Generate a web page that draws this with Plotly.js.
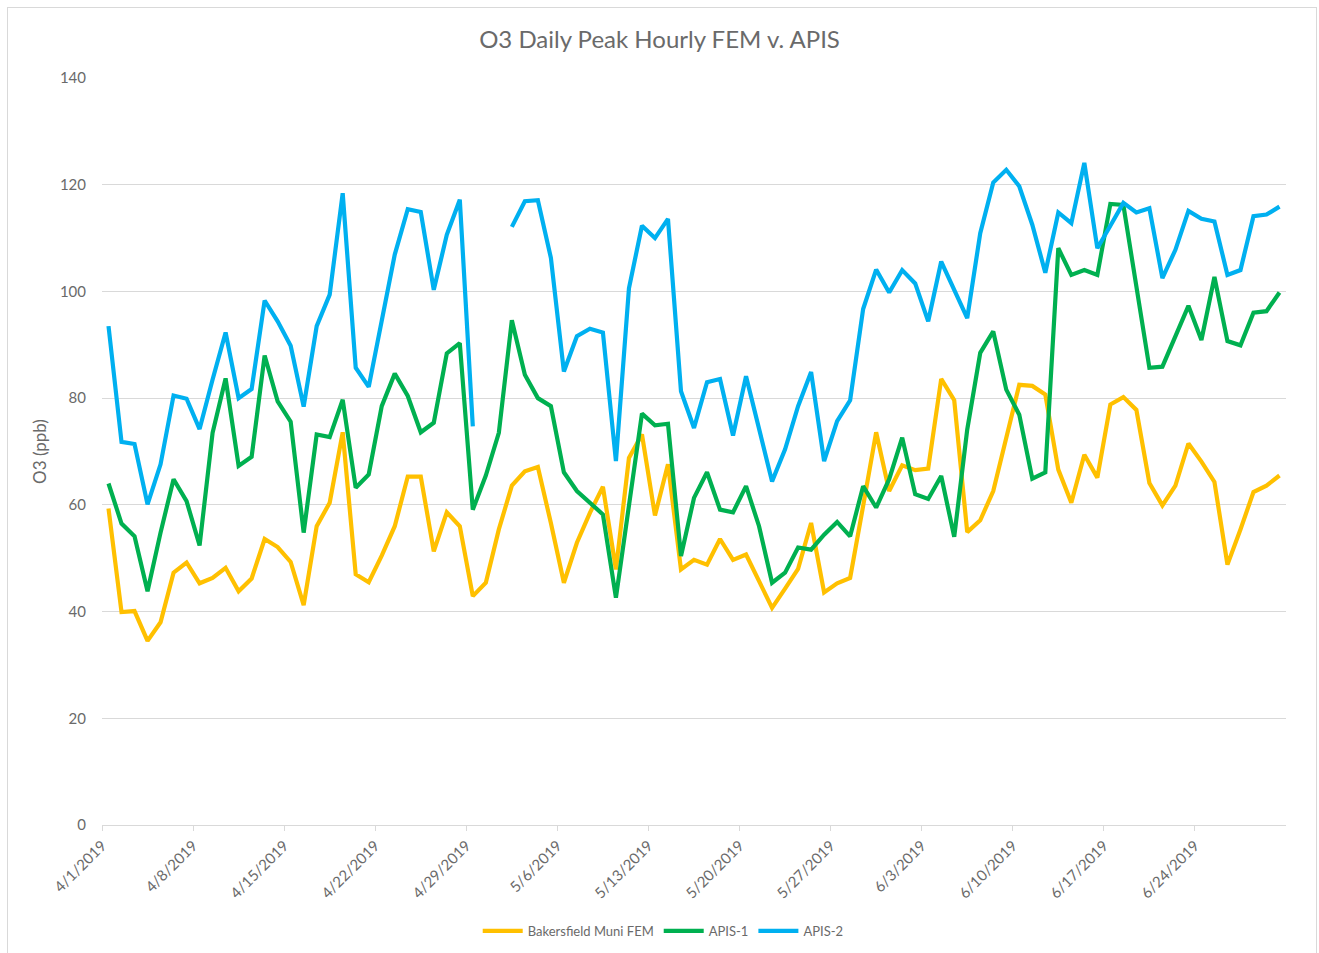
<!DOCTYPE html>
<html>
<head>
<meta charset="utf-8">
<script src="https://cdn.plot.ly/plotly-3.0.1.min.js"></script>
<style>
  html, body { margin: 0; padding: 0; background: #fff; }
  #wrap { position: relative; width: 1319px; height: 953px; }
  #chart { position: absolute; left: 0; top: 0; width: 1319px; height: 953px; }
  #frame { position: absolute; left: 7px; top: 7px; width: 1308px; height: 950px; border: 1px solid #d9d9d9; pointer-events: none; }
</style>
</head>
<body>
<div id="wrap"><div id="chart"></div><div id="frame"></div></div>
<script>
// ---- data ----
const startDate = '2019-04-01';
const dayCount = 91;

const seriesNames = ['Bakersfield Muni FEM', 'APIS-1', 'APIS-2'];

const bakersfieldFEM = [
  59.3, 39.9, 40.1, 34.5, 38.0, 47.3, 49.2, 45.3, 46.3, 48.2,
  43.8, 46.2, 53.6, 52.1, 49.3, 41.2, 56.0, 60.4, 73.6, 47.0,
  45.5, 50.5, 56.0, 65.3, 65.3, 51.3, 58.6, 56.0, 42.9, 45.4,
  55.4, 63.6, 66.3, 67.1, 56.6, 45.4, 52.9, 58.5, 63.4, 47.9,
  68.8, 73.2, 58.0, 67.6, 47.9, 49.7, 48.8, 53.6, 49.7, 50.7,
  45.7, 40.7, 44.3, 48.0, 56.6, 43.6, 45.3, 46.3, 59.8, 73.6,
  62.6, 67.4, 66.5, 66.8, 83.6, 79.6, 54.9, 57.1, 62.6, 72.6,
  82.5, 82.3, 80.7, 66.6, 60.4, 69.4, 65.1, 78.8, 80.2, 77.8,
  64.1, 59.9, 63.6, 71.5, 68.1, 64.3, 48.8, 55.4, 62.4, 63.6, 65.5
];

const apis1 = [
  64.0, 56.5, 54.1, 43.8, 54.8, 64.8, 60.7, 52.4, 73.5, 83.7,
  67.3, 69.0, 88.0, 79.4, 75.6, 54.8, 73.2, 72.7, 79.7, 63.2,
  65.7, 78.5, 84.6, 80.4, 73.6, 75.4, 88.4, 90.3, 59.1, 65.5,
  73.5, 94.6, 84.4, 80.0, 78.5, 66.1, 62.6, 60.4, 58.2, 42.6,
  60.4, 77.1, 74.9, 75.2, 50.4, 61.3, 66.1, 59.1, 58.6, 63.5,
  56.0, 45.4, 47.3, 52.0, 51.6, 54.4, 56.8, 54.1, 63.5, 59.5,
  64.8, 72.6, 62.0, 61.1, 65.4, 54.0, 74.1, 88.5, 92.5, 81.6,
  76.9, 64.9, 66.1, 108.1, 103.1, 104.0, 103.1, 116.4, 116.2, 101.5,
  85.7, 85.9, 91.6, 97.3, 90.9, 102.7, 90.7, 89.9, 96.0, 96.3, 99.8
];

const apis2 = [
  93.5, 71.8, 71.4, 60.1, 67.6, 80.5, 79.9, 74.2, 83.5, 92.3,
  80.0, 81.7, 98.3, 94.4, 89.8, 78.4, 93.5, 99.4, 118.4, 85.7,
  82.1, 94.1, 106.9, 115.4, 114.9, 100.3, 110.6, 117.2, 74.7, null,
  null, 112.1, 116.9, 117.1, 106.3, 85.0, 91.6, 93.0, 92.3, 68.2,
  100.6, 112.3, 110.0, 113.6, 81.3, 74.4, 83.0, 83.6, 73.0, 84.1,
  74.1, 64.4, 70.4, 78.5, 84.9, 68.2, 75.7, 79.6, 96.7, 104.1,
  99.8, 104.0, 101.5, 94.4, 105.6, 100.3, 95.0, 110.9, 120.4, 122.8,
  119.7, 112.5, 103.5, 114.8, 112.8, 124.1, 108.1, 112.3, 116.6, 114.8,
  115.6, 102.5, 107.8, 115.1, 113.6, 113.1, 103.1, 104.0, 114.1, 114.4, 115.9
];

const tickDates = [
  '2019-04-01', '2019-04-08', '2019-04-15', '2019-04-22', '2019-04-29',
  '2019-05-06', '2019-05-13', '2019-05-20', '2019-05-27', '2019-06-03',
  '2019-06-10', '2019-06-17', '2019-06-24'
];
const tickLabels = [
  '4/1/2019', '4/8/2019', '4/15/2019', '4/22/2019', '4/29/2019',
  '5/6/2019', '5/13/2019', '5/20/2019', '5/27/2019', '6/3/2019',
  '6/10/2019', '6/17/2019', '6/24/2019'
];

// ---- build date categories ----
const dates = [];
(function () {
  const d0 = new Date(startDate + 'T00:00:00Z');
  for (let i = 0; i < dayCount; i++) {
    const d = new Date(d0.getTime() + i * 86400000);
    dates.push(d.toISOString().slice(0, 10));
  }
})();

const colors = ['#FFC000', '#00B050', '#00B0F0'];
const values = [bakersfieldFEM, apis1, apis2];

const traces = values.map((v, i) => ({
  type: 'scatter',
  mode: 'lines',
  name: seriesNames[i],
  x: dates,
  y: v,
  xperiod: 86400000,
  xperiodalignment: 'middle',
  connectgaps: false,
  line: { color: colors[i], width: 4.2, shape: 'linear' },
  hovertemplate: '%{y}<extra>' + seriesNames[i] + '</extra>'
}));

const FONT = 'Lato, "Open Sans", "Liberation Sans", sans-serif';
const TXT = '#6a6a6a';

const layout = {
  width: 1319,
  height: 953,
  paper_bgcolor: '#ffffff',
  plot_bgcolor: '#ffffff',
  margin: { l: 102, r: 33, t: 78, b: 128, pad: 0, autoexpand: false },
  font: { family: FONT, color: TXT, size: 15 },
  title: {
    text: 'O3 Daily Peak Hourly FEM v. APIS',
    font: { family: FONT, size: 24, color: TXT },
    xref: 'container', x: 0.5, xanchor: 'center',
    yref: 'container', y: 1 - 40 / 953, yanchor: 'middle'
  },
  xaxis: {
    type: 'date',
    range: ['2019-04-01', '2019-07-01'],
    tickmode: 'array',
    tickvals: tickDates,
    ticktext: tickLabels,
    tickangle: -45,
    ticks: 'outside',
    ticklen: 5,
    tickcolor: '#d9d9d9',
    tickwidth: 1,
    showline: true,
    linecolor: '#d9d9d9',
    linewidth: 1,
    showgrid: false,
    zeroline: false,
    tickfont: { family: FONT, size: 15, color: TXT }
  },
  yaxis: {
    range: [0, 140],
    tick0: 0,
    dtick: 20,
    showgrid: true,
    gridcolor: '#d9d9d9',
    gridwidth: 1,
    zeroline: false,
    showline: false,
    ticks: 'outside',
    ticklen: 12,
    tickcolor: 'rgba(0,0,0,0)',
    tickfont: { family: FONT, size: 15, color: TXT },
    title: { text: 'O3 (ppb)', font: { family: FONT, size: 17, color: TXT }, standoff: 8 }
  },
  showlegend: true,
  legend: {
    orientation: 'h',
    x: 0.474, xanchor: 'center',
    yref: 'container',
    y: 1 - 931 / 953, yanchor: 'middle',
    font: { family: FONT, size: 13, color: TXT },
    bgcolor: 'rgba(0,0,0,0)',
    itemwidth: 40,
    traceorder: 'normal'
  },
  hovermode: 'closest'
};

Plotly.newPlot('chart', traces, layout, { displayModeBar: false, responsive: false });
</script>
</body>
</html>
